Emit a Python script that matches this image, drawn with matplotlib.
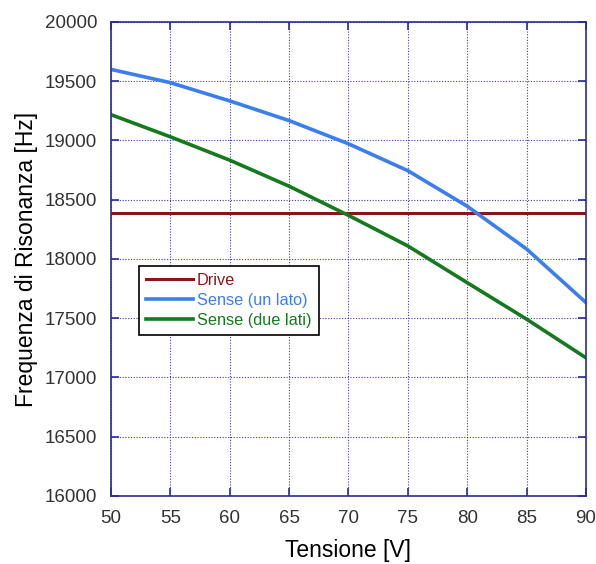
import matplotlib.pyplot as plt
import numpy as np

plt.rcParams['font.family'] = ['Liberation Sans', 'DejaVu Sans']

# Tensione [V]
tensione = [50, 55, 60, 65, 70, 75, 80, 85, 90]
# Frequenze di risonanza [Hz]
drive = [18385] * len(tensione)
sense_un_lato = [19600, 19488, 19334, 19168, 18972, 18745, 18445, 18084, 17632]
sense_due_lati = [19218, 19031, 18834, 18614, 18368, 18110, 17800, 17492, 17166]

navy = '#2a2a9a'

fig = plt.figure(figsize=(5.96, 5.64), dpi=100)
ax = fig.add_axes([0.1862, 0.1206, 0.797, 0.8404])

l1, = ax.plot(tensione, drive, color='#8b1414', lw=2.2, label='Drive')
l2, = ax.plot(tensione, sense_un_lato, color='#3a7ef0', lw=2.6, label='Sense (un lato)')
l3, = ax.plot(tensione, sense_due_lati, color='#157a1e', lw=2.6, label='Sense (due lati)')

ax.set_xlim(50, 90)
ax.set_ylim(16000, 20000)
ax.set_xticks(np.arange(50, 91, 5))
ax.set_yticks(np.arange(16000, 20001, 500))

ax.grid(True, color=navy, linestyle=(0, (1, 1.5)), linewidth=0.8, alpha=0.9)
for s in ax.spines.values():
    s.set_color(navy)
    s.set_linewidth(1.2)
ax.tick_params(direction='in', length=6, width=1.2, color=navy,
               top=True, right=True, labelsize=13.5, labelcolor='#333333', pad=10)

ax.set_xlabel('Tensione [V]', fontsize=16.5, labelpad=9)
ax.set_ylabel('Frequenza di Risonanza [Hz]', fontsize=16.5, labelpad=5)

leg = ax.legend(loc='upper left', bbox_to_anchor=(0.059, 0.486), fontsize=11.7,
                frameon=True, fancybox=False, borderpad=0.45, handlelength=2.9,
                handletextpad=0.2, labelspacing=0.3, borderaxespad=0)
leg.get_frame().set_edgecolor('black')
leg.get_frame().set_linewidth(1.2)
leg.get_frame().set_alpha(1)
for txt, ln in zip(leg.get_texts(), [l1, l2, l3]):
    txt.set_color(ln.get_color())

fig.savefig('out.png', dpi=100)
